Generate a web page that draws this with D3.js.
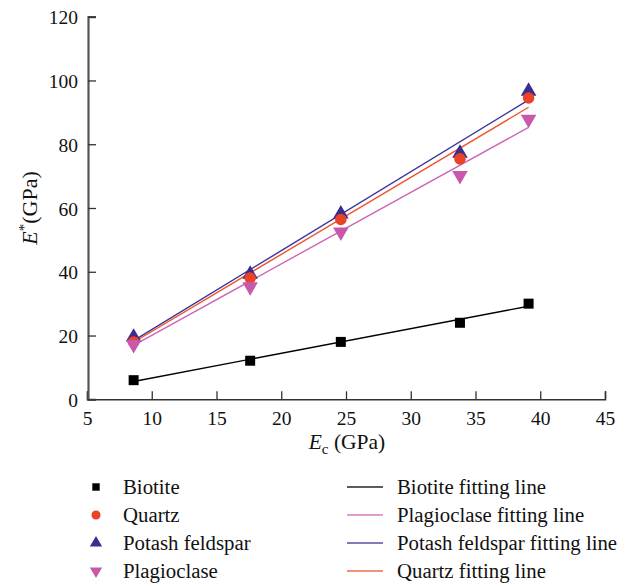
<!DOCTYPE html>
<html><head><meta charset="utf-8">
<script src="https://cdn.jsdelivr.net/npm/d3@7"></script>
<style>body{margin:0;background:#fff}svg{display:block}text{font-family:"Liberation Serif","Times New Roman",serif;fill:#111}</style>
</head><body>
<script>
// ---- data ----
const ec = [8.6, 17.6, 24.6, 33.8, 39.1];
const biotite = [6.0, 12.1, 18.0, 24.0, 30.0];
const quartz = [18.0, 38.0, 56.4, 75.4, 94.5];
const potash = [19.5, 39.2, 58.1, 77.2, 96.6];
const plagioclase = [17.2, 35.3, 52.5, 70.2, 87.8];
// fitting lines: [E at start x, E at end x]
const fitX = [8.6, 39.1];
const biotiteFit = [5.6, 29.2];
const plagioclaseFit = [16.9, 85.3];
const potashFit = [18.4, 93.9];
const quartzFit = [17.9, 91.6];
const xTicks = [5, 10, 15, 20, 25, 30, 35, 40, 45];
const yTicks = [0, 20, 40, 60, 80, 100, 120];

const W = 627, H = 586;
const svg = d3.select("body").append("svg").attr("width", W).attr("height", H);
const x = d3.scaleLinear().domain([5, 45]).range([87, 605]);
const y = d3.scaleLinear().domain([0, 120]).range([399.3, 16.7]);

const colors = {
  biotite: "#000000", quartz: "#ea4328", potash: "#382e8e", plag: "#c758ac",
  biotiteL: "#000000", quartzL: "#f0532f", potashL: "#3a3296", plagL: "#cc66b8"
};

// axes
const xAxis = svg.append("g").attr("transform", `translate(0,${y(0)})`)
  .call(d3.axisBottom(x).tickValues(xTicks).tickSize(-8).tickPadding(12).tickFormat(d3.format("d")));
const yAxis = svg.append("g").attr("transform", `translate(${x(5)+1},0)`)
  .call(d3.axisLeft(y).tickValues(yTicks).tickSize(-8).tickPadding(10).tickFormat(d3.format("d")));
[xAxis, yAxis].forEach(g => {
  g.selectAll("text").style("font-size", "19.5px").style("font-family", '"Liberation Serif",serif').attr("fill", "#111");
});
xAxis.select(".domain").attr("stroke", "#333").attr("stroke-width", 1.5);
xAxis.selectAll(".tick line").attr("stroke", "#333").attr("stroke-width", 1.3);
yAxis.select(".domain").attr("stroke", "#555").attr("stroke-width", 2.2);
yAxis.selectAll(".tick line").attr("stroke", "#333").attr("stroke-width", 1.3);
xAxis.selectAll(".tick text").attr("dy", "0.71em");
yAxis.selectAll(".tick text").attr("dy", "0.36em");

// axis labels
const xl = svg.append("text").attr("x", x(25) + 1).attr("y", 449).attr("text-anchor", "middle").style("font-size", "21.5px");
xl.append("tspan").text("E").style("font-style", "italic");
xl.append("tspan").text("c").attr("dy", 5).style("font-size", "15px");
xl.append("tspan").text(" (GPa)").attr("dy", -5);

const yl = svg.append("text").attr("transform", `translate(37,${y(60)}) rotate(-90)`).attr("text-anchor", "middle").style("font-size", "22px");
yl.append("tspan").text("E").style("font-style", "italic");
yl.append("tspan").text("*").attr("dy", -8).style("font-size", "15px");
yl.append("tspan").text("(GPa)").attr("dy", 8);

// fit lines
const fits = [
  [biotiteFit, colors.biotiteL, 1.4], [plagioclaseFit, colors.plagL, 1.4],
  [potashFit, colors.potashL, 1.4], [quartzFit, colors.quartzL, 1.4]
];
const line = d3.line().x(d => x(d[0])).y(d => y(d[1]));
fits.forEach(([f, c, w]) => {
  svg.append("path").attr("d", line(fitX.map((xv, i) => [xv, f[i]])))
    .attr("fill", "none").attr("stroke", c).attr("stroke-width", w);
});

// markers
const sym = {
  square: d3.symbol().type(d3.symbolSquare).size(100),
  circle: d3.symbol().type(d3.symbolCircle).size(105),
  triUp: d3.symbol().type(d3.symbolTriangle).size(105)
};
function drawPts(vals, gen, color, rot) {
  svg.append("g").selectAll("path").data(ec.map((e, i) => [e, vals[i]])).join("path")
    .attr("d", gen())
    .attr("transform", d => `translate(${x(d[0])},${y(d[1])})${rot ? " rotate(180)" : ""}`)
    .attr("fill", color);
}
drawPts(biotite, sym.square, colors.biotite, false);
drawPts(potash, sym.triUp, colors.potash, false);
drawPts(quartz, sym.circle, colors.quartz, false);
drawPts(plagioclase, sym.triUp, colors.plag, true);

// legend
const legLeft = [
  ["Biotite", d3.symbolSquare, colors.biotite, false, 55],
  ["Quartz", d3.symbolCircle, colors.quartz, false, 65],
  ["Potash feldspar", d3.symbolTriangle, colors.potash, false, 65],
  ["Plagioclase", d3.symbolTriangle, colors.plag, true, 65]
];
const legRight = [
  ["Biotite fitting line", colors.biotiteL],
  ["Plagioclase fitting line", colors.plagL],
  ["Potash feldspar fitting line", colors.potashL],
  ["Quartz fitting line", colors.quartzL]
];
const rowY = [487, 515, 543, 571];
legLeft.forEach(([t, type, c, rot, sz], i) => {
  svg.append("path").attr("d", d3.symbol().type(type).size(sz)())
    .attr("transform", `translate(96,${rowY[i]})${rot ? " rotate(180)" : ""}`).attr("fill", c);
  svg.append("text").attr("x", 123).attr("y", rowY[i]).attr("dy", "0.33em").style("font-size", "20.8px").text(t);
});
legRight.forEach(([t, c], i) => {
  svg.append("line").attr("x1", 347).attr("x2", 383).attr("y1", rowY[i]).attr("y2", rowY[i])
    .attr("stroke", c).attr("stroke-width", 1.4).attr("opacity", 0.85);
  svg.append("text").attr("x", 397).attr("y", rowY[i]).attr("dy", "0.33em").style("font-size", "20.8px").text(t);
});
</script>
</body></html>
